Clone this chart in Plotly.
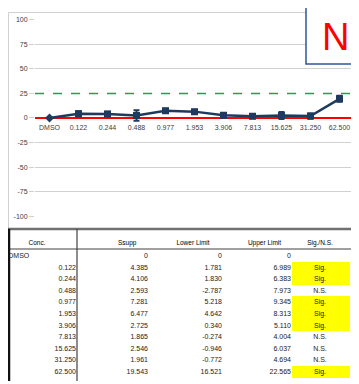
import plotly.graph_objects as go

# ---- data ----
conc = ["DMSO", "0.122", "0.244", "0.488", "0.977", "1.953", "3.906", "7.813", "15.625", "31.250", "62.500"]
supp = [0, 4.385, 4.106, 2.593, 7.281, 6.477, 2.725, 1.865, 2.546, 1.961, 19.543]
lower = [0, 1.781, 1.830, -2.787, 5.218, 4.642, 0.340, -0.274, -0.946, -0.772, 16.521]
upper = [0, 6.989, 6.383, 7.973, 9.345, 8.313, 5.110, 4.004, 6.037, 4.694, 22.565]
sig = ["", "Sig.", "Sig.", "N.S.", "Sig.", "Sig.", "Sig.", "N.S.", "N.S.", "N.S.", "Sig."]
headers = ["Conc.", "Ssupp", "Lower Limit", "Upper Limit", "Sig./N.S."]
y_ticks = [100, 75, 50, 25, 0, -25, -50, -75, -100]
y_ticktext = ["100", "75", "50", "25", "0", "-25", "-50", "-75", "-100"]
zero_line = 0
threshold = 25
panel_label = "N"

# page body has an 8px margin: figure occupies screen px 8..359 x 8..384
OFF = 8
W, H = 359 - OFF, 384 - OFF
def fx(sx):
    return (sx - OFF) / W
def fy(sy):
    return 1 - (sy - OFF) / H

NAVY = "#1F3A5F"
CLEAR = "rgba(0,0,0,0)"
fig = go.Figure()

err_plus = [u - s for u, s in zip(upper, supp)]
err_minus = [s - l for s, l in zip(supp, lower)]
symbols = ["diamond" if c == "DMSO" else "square" for c in conc]

fig.add_trace(go.Scatter(
    x=conc, y=supp, mode="lines+markers",
    line=dict(color=NAVY, width=2.5),
    marker=dict(symbol=symbols, size=7, color=NAVY),
    error_y=dict(type="data", symmetric=False, array=err_plus, arrayminus=err_minus,
                 color=NAVY, thickness=2, width=3),
    showlegend=False, hoverinfo="skip",
))

def fmt(v):
    return "0" if v == 0 else f"{v:.3f}"

n = len(conc)
sig_fill = ["#FFFF00" if s == "Sig." else CLEAR for s in sig]

# table 1: cell fills (yellow significance cells)
fig.add_trace(go.Table(
    domain=dict(x=[0, fx(350)], y=[0, fy(229.5)]),
    columnwidth=[284, 58],
    header=dict(values=["", ""], height=20.7, fill=dict(color=CLEAR),
                line=dict(color=CLEAR, width=0)),
    cells=dict(values=[[""] * n, [""] * n], height=11.6,
               fill=dict(color=[[CLEAR] * n, sig_fill]),
               line=dict(color=CLEAR, width=0)),
))

# table 2: text
nb = "\u00a0"
conc_cells = [c + nb * 24 if c == "DMSO" else c for c in conc]
head_cells = [headers[0] + nb * 10, nb * 8 + headers[1], headers[2], headers[3], headers[4]]
cell_vals = [conc_cells, [fmt(v) for v in supp], [fmt(v) for v in lower], [fmt(v) for v in upper], sig]

fig.add_trace(go.Table(
    domain=dict(x=[0, fx(341)], y=[0, fy(232.5)]),
    columnwidth=[76, 72, 74, 69, 42],
    header=dict(values=head_cells, align="center", height=12.5,
                font=dict(family="Liberation Sans", size=6.5, color="#000000"),
                fill=dict(color=CLEAR), line=dict(color=CLEAR, width=0)),
    cells=dict(values=cell_vals,
               align=["right", "right", "right", "right", "center"],
               height=11.6,
               font=dict(family="Liberation Sans", size=7, color="#222222"),
               fill=dict(color=CLEAR), line=dict(color=CLEAR, width=0)),
))

shapes = [
    # chart area border (top and left edges)
    dict(type="line", xref="paper", yref="paper", x0=fx(8.5), x1=fx(359), y0=fy(8.5), y1=fy(8.5),
         line=dict(color="#D0D0D0", width=1), layer="below"),
    dict(type="line", xref="paper", yref="paper", x0=fx(8.5), x1=fx(8.5), y0=fy(228), y1=fy(8.5),
         line=dict(color="#D0D0D0", width=1), layer="below"),
    dict(type="line", xref="x domain", yref="y", x0=0, x1=1, y0=zero_line, y1=zero_line,
         line=dict(color="#FF0000", width=2), layer="below"),
    dict(type="line", xref="x domain", yref="y", x0=0, x1=1, y0=threshold, y1=threshold,
         line=dict(color="#00B050", width=1.5, dash="dash"), layer="below"),
    dict(type="rect", xref="paper", yref="paper", x0=fx(306), x1=fx(366), y0=fy(61), y1=fy(3),
         line=dict(color="#2F5597", width=1.5), fillcolor="white", layer="above"),
    dict(type="line", xref="paper", yref="paper", x0=0, x1=1, y0=fy(229), y1=fy(229),
         line=dict(color="#707070", width=2.5), layer="above"),
    dict(type="line", xref="paper", yref="paper", x0=fx(8), x1=1, y0=fy(249.5), y1=fy(249.5),
         line=dict(color="#404040", width=1), layer="above"),
    dict(type="line", xref="paper", yref="paper", x0=fx(9), x1=fx(9), y0=0, y1=fy(229),
         line=dict(color="#111111", width=2.5), layer="above"),
    dict(type="line", xref="paper", yref="paper", x0=fx(77), x1=fx(77), y0=0, y1=fy(229),
         line=dict(color="#404040", width=1.2), layer="above"),
]

grid_vals = [v for v in y_ticks if v not in (zero_line, threshold)]

fig.update_layout(
    width=W, height=H, margin=dict(l=0, r=0, t=0, b=0),
    paper_bgcolor="white", plot_bgcolor="white",
    shapes=shapes,
    annotations=[dict(text=panel_label, xref="paper", yref="paper", x=fx(335.5), y=fy(33.5),
                      xanchor="center", yanchor="middle", showarrow=False,
                      font=dict(family="Liberation Sans", size=38, color="#FF0000"))],
    xaxis=dict(domain=[fx(35), fx(354)], type="category", range=[-0.5, 10.5],
               anchor="free", position=fy(116), showgrid=False, showline=False, zeroline=False,
               ticks="", ticklabelstandoff=4,
               tickfont=dict(family="Liberation Sans", size=7, color="#404040")),
    yaxis=dict(domain=[fy(216), fy(16)], range=[-100, 100], tickvals=y_ticks, ticktext=y_ticktext,
               showgrid=False, zeroline=False, showline=False,
               ticks="outside", ticklen=5, tickcolor="#D0D0D0",
               minor=dict(tickvals=grid_vals, showgrid=True, gridcolor="#D0D0D0", gridwidth=1, ticks=""),
               tickfont=dict(family="Liberation Sans", size=7, color="#404040")),
)

fig.write_html("out.html")
